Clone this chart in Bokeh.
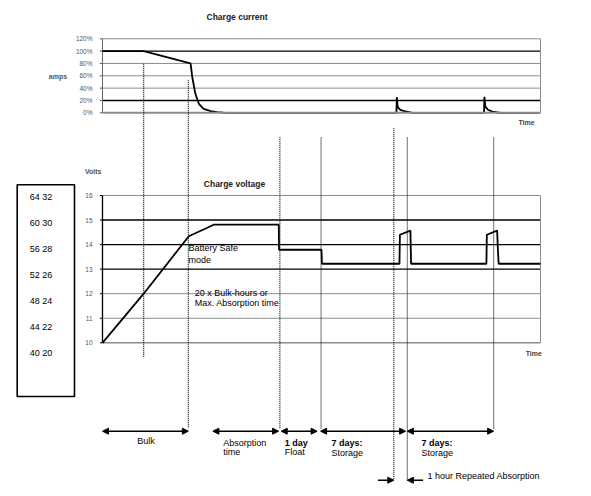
from bokeh.plotting import figure
from bokeh.models import Range1d, ColumnDataSource, Arrow, NormalHead
from bokeh.embed import file_html
from bokeh.resources import INLINE
from bokeh.core.properties import value

# ---------------- data ----------------
cur_ticks = [0, 20, 40, 60, 80, 100, 120]
cur_tick_labels = ["0%", "20%", "40%", "60%", "80%", "100%", "120%"]
cur_dark_lines = [20, 100]

volt_ticks = [10, 11, 12, 13, 14, 15, 16]
volt_tick_labels = ["10", "11", "12", "13", "14", "15", "16"]
volt_dark_lines = [13, 14, 15]

box_labels = ["64 32", "60 30", "56 28", "52 26", "48 24", "44 22", "40 20"]

# charge current (time in arbitrary units 0..100, current in % of max)
current_t = [0, 9.4, 20.1, 20.5, 21.2, 22.0, 23.1, 24.7, 26.2, 28.1,
             67.1, 67.2, 67.4, 68.0, 69.2, 70.3, 71.0,
             87.1, 87.2, 87.4, 88.0, 89.0, 90.2, 91.0, 99.7]
current_pct = [100, 100, 80, 57.7, 30.8, 14.6, 6.5, 2.6, 1.0, 0,
               0, 25.3, 9, 4.9, 2.1, 0.5, 0,
               0, 26, 10, 5, 2, 0.5, 0, 0]

# charge voltage (12 V scale)
voltage_t = [0, 9.4, 19.7, 25.4, 40.25, 40.3, 50.0, 50.1, 67.8, 67.9, 70.3, 70.45,
             87.65, 87.75, 90.1, 90.25, 90.45, 100]
voltage_v = [10, 12.0, 14.34, 14.81, 14.81, 13.79, 13.79, 13.22, 13.22, 14.40, 14.57, 13.22,
             13.22, 14.40, 14.57, 13.87, 13.22, 13.22]

# dotted event markers (time)
event_t = [9.4, 19.6, 40.5, 49.9, 66.5, 69.6, 89.3]

# phases shown with double arrows
phase_start = [0.0, 25.2, 40.8, 49.8, 69.6]
phase_end = [19.6, 40.2, 49.0, 69.2, 89.3]

# 1 hour repeated absorption window
repeat_start, repeat_end = 66.5, 69.6
T_END = 100

# ---------------- layout constants (screen pixels) ----------------
W, H, M = 585, 490, 0
T0_PX, T_PX = 102.0, 4.38          # screen x of t=0, px per time unit
V0_PX, V_PX = 342.3, 24.55         # screen y of 10 V, px per volt
A0_PX, A_PX = 112.3, 74.0 / 120.0  # screen y of 0 %, px per percent
TICK = 0.6                          # tick length in time units

xs = -(T0_PX - M) / T_PX
vs = 10 - (M + H - V0_PX) / V_PX
a_s = 0 - (M + H - A0_PX) / A_PX

p = figure(width=W, height=H,
           x_range=Range1d(xs, xs + W / T_PX),
           y_range=Range1d(vs, vs + H / V_PX),
           x_axis_type=None, y_axis_type=None,
           toolbar_location=None, output_backend="svg",
           min_border=0, outline_line_color=None)
p.background_fill_color = "white"
p.border_fill_color = "white"
p.extra_x_ranges = {"px": Range1d(M, M + W)}
p.extra_y_ranges = {"px": Range1d(M + H, M), "amps": Range1d(a_s, a_s + H / A_PX)}

FONT = value("Liberation Sans")
GRAY = "#8c8c8c"

# ---------------- top chart: charge current ----------------
for tk in cur_ticks:
    dark = tk in cur_dark_lines
    if tk == 0:
        continue
    p.segment(x0=[0], x1=[T_END], y0=[tk], y1=[tk], y_range_name="amps",
              line_color="black" if dark else GRAY, line_width=1.4 if dark else 1)
p.segment(x0=[-TICK] * len(cur_ticks), x1=[0] * len(cur_ticks), y0=cur_ticks, y1=cur_ticks,
          y_range_name="amps", line_color="#555555", line_width=1)
p.segment(x0=[0], x1=[0], y0=[0], y1=[120], y_range_name="amps", line_color="#666666", line_width=1)
p.segment(x0=[T_END], x1=[T_END], y0=[0], y1=[120], y_range_name="amps", line_color=GRAY, line_width=1)
p.line(current_t, current_pct, y_range_name="amps", line_color="black", line_width=1.8)
p.segment(x0=[0], x1=[T_END], y0=[0], y1=[0], y_range_name="amps", line_color=GRAY, line_width=2)

p.text(x=[92] * len(cur_ticks), y=cur_ticks, text=cur_tick_labels, x_range_name="px", y_range_name="amps",
       text_font=FONT, text_font_size="6.5px", text_color="#555555", text_align="right", text_baseline="middle")

# ---------------- bottom chart: charge voltage ----------------
for tk in volt_ticks:
    dark = tk in volt_dark_lines
    p.segment(x0=[0], x1=[T_END], y0=[tk], y1=[tk],
              line_color="black" if dark else GRAY,
              line_width=1.4 if dark else (1.5 if tk == 10 else 1))
p.segment(x0=[-TICK] * len(volt_ticks), x1=[0] * len(volt_ticks), y0=volt_ticks, y1=volt_ticks,
          line_color="black", line_width=1)
p.segment(x0=[0], x1=[0], y0=[10], y1=[16], line_color="black", line_width=1.3)
p.segment(x0=[T_END], x1=[T_END], y0=[10], y1=[16], line_color=GRAY, line_width=1)
p.line(voltage_t, voltage_v, line_color="black", line_width=1.8)

p.text(x=[92] * len(volt_ticks), y=volt_ticks, text=volt_tick_labels, x_range_name="px",
       text_font=FONT, text_font_size="6.5px", text_color="#555555", text_align="right", text_baseline="middle")

# ---------------- dotted event markers ----------------
ev_top = [63.3, 79.7, 136.7, 137, 127.7, 137, 137]
ev_bot = [357.3, 428, 428, 428, 480, 480, 428]
p.segment(x0=event_t, x1=event_t, y0=ev_top, y1=ev_bot, y_range_name="px",
          line_color="#111111", line_width=1.2, line_dash="1 1")

# ---------------- phase arrows ----------------
ARROW_Y = 430.7
head = dict(size=6, fill_color="black", line_color="black", line_width=1)
src = ColumnDataSource(dict(x0=phase_start, x1=phase_end, y=[ARROW_Y] * len(phase_start)))
p.add_layout(Arrow(start=NormalHead(**head), end=NormalHead(**head), source=src,
                   x_start="x0", x_end="x1", y_start="y", y_end="y", y_range_name="px",
                   line_color="black", line_width=1.4))
REP_Y, REP_L = 479.7, 3.6
src2 = ColumnDataSource(dict(x0=[repeat_start - REP_L, repeat_end + REP_L], x1=[repeat_start, repeat_end],
                             y=[REP_Y, REP_Y]))
p.add_layout(Arrow(end=NormalHead(**head), source=src2,
                   x_start="x0", x_end="x1", y_start="y", y_end="y", y_range_name="px",
                   line_color="black", line_width=1.4))

# ---------------- left conversion box ----------------
p.quad(left=[16.7], right=[74], top=[184.3], bottom=[396], x_range_name="px", y_range_name="px",
       fill_color=None, line_color="black", line_width=1.6)
p.text(x=[29.3] * len(box_labels), y=[196 + 26.05 * i for i in range(len(box_labels))], text=box_labels,
       x_range_name="px", y_range_name="px", text_font=FONT, text_font_size="9px",
       text_color="black", text_align="left", text_baseline="middle")

# ---------------- texts ----------------
def txt(s, x, y, size="9px", bold=False, align="left", color="black"):
    p.text(x=[x], y=[y], text=[s], x_range_name="px", y_range_name="px", text_font=FONT,
           text_font_size=size, text_font_style="bold" if bold else "normal",
           text_color=color, text_align=align, text_baseline="middle")

txt("Charge current", 236.5, 16.5, size="8.5px", bold=True, align="center", color="#222222")
txt("amps", 57.5, 75.5, size="7px", bold=True, align="center", color="#555555")
txt("Time", 526, 121.7, size="7px", bold=True, align="center", color="#444444")
txt("Volts", 92.7, 171, size="7px", bold=True, align="center", color="#555555")
txt("Charge voltage", 234, 183, size="8.5px", bold=True, align="center", color="#222222")
txt("Time", 533.3, 352.7, size="7px", bold=True, align="center", color="#444444")

txt("Battery Safe", 188, 247)
txt("mode", 188, 259)
txt("20 x Bulk-hours or", 194.3, 292.7)
txt("Max. Absorption time", 194.3, 302.7)

txt("Bulk", 136.7, 440.3)
txt("Absorption", 222.7, 442)
txt("time", 222.7, 451.7)
txt("1 day", 284.3, 442, bold=True)
txt("Float", 284.3, 451.7)
txt("7 days:", 331, 442.3, bold=True)
txt("Storage", 331, 452.7)
txt("7 days:", 421, 442.3, bold=True)
txt("Storage", 421, 452.7)
txt("1 hour Repeated Absorption", 427, 475.7)

open("out.html", "w").write(file_html(p, INLINE))
